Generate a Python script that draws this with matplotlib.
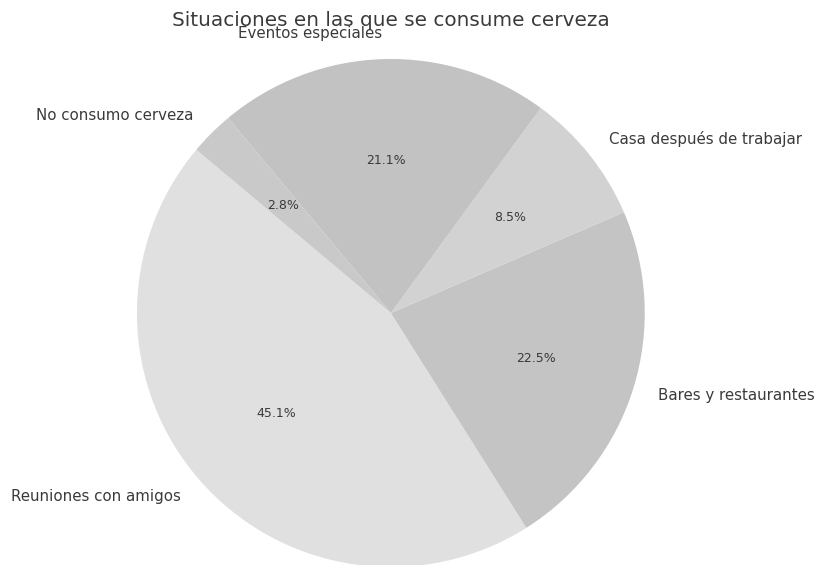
import matplotlib
matplotlib.use("Agg")
import matplotlib.pyplot as plt

situaciones = ["Reuniones con amigos", "Bares y restaurantes", "Casa después de trabajar",
               "Eventos especiales", "No consumo cerveza"]
respuestas = [32, 16, 6, 15, 2]
colores = ["#e0e0e0", "#c4c4c4", "#d2d2d2", "#c2c2c2", "#c9c9c9"]

fig = plt.figure(figsize=(8.18, 5.65), dpi=100)
# square axes in pixels, pie centred a bit left, bottom runs off the figure
ax = fig.add_axes([0.0898, -0.116, 0.776, 1.124])
wedges, textos, pcts = ax.pie(respuestas, labels=situaciones, colors=colores,
                              autopct="%1.1f%%", startangle=140,
                              textprops={"color": "#3a3a3a", "fontsize": 10.8})
for t in pcts:
    t.set_fontsize(9)
ax.axis("equal")
ax.set_xlim(-1.25, 1.25)
ax.set_ylim(-1.25, 1.25)

fig.text(0.478, 1 - 20 / 565, "Situaciones en las que se consume cerveza",
         ha="center", va="center", fontsize=14.4, color="#3a3a3a")

fig.savefig("out.png", dpi=100)
